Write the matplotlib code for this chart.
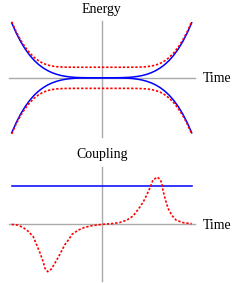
import numpy as np
import matplotlib.pyplot as plt

# Doc gia tri tu hinh: thoi gian -1..1, buoc 0.05
t = np.linspace(-1, 1, 41)

# Nang luong (duong xanh: cat nhau, duong do: tranh cat nhau)
blue_energy = [1.000, 0.815, 0.656, 0.522, 0.410, 0.316, 0.240, 0.179, 0.130, 0.092,
               0.063, 0.041, 0.026, 0.015, 0.008, 0.004, 0.002, 0.001, 0.000, 0.000,
               0.000,
               0.000, 0.000, 0.001, 0.002, 0.004, 0.008, 0.015, 0.026, 0.041, 0.063,
               0.092, 0.130, 0.179, 0.240, 0.316, 0.410, 0.522, 0.656, 0.815, 1.000]
red_energy = [1.018, 0.837, 0.684, 0.556, 0.453, 0.370, 0.308, 0.262, 0.232, 0.213,
              0.202, 0.197, 0.194, 0.193, 0.192, 0.192, 0.192, 0.192, 0.192, 0.192,
              0.192,
              0.192, 0.192, 0.192, 0.192, 0.192, 0.192, 0.193, 0.194, 0.197, 0.202,
              0.213, 0.232, 0.262, 0.308, 0.370, 0.453, 0.556, 0.684, 0.837, 1.018]

# Ghep noi (coupling)
coupling_t = [-1.0, -0.93, -0.87, -0.82, -0.76, -0.73, -0.69, -0.65, -0.63, -0.60,
              -0.56, -0.52, -0.47, -0.41, -0.37, -0.33, -0.26, -0.19, -0.11, 0.0,
              0.13, 0.20, 0.28, 0.35, 0.41, 0.46, 0.50, 0.54, 0.57, 0.62,
              0.65, 0.67, 0.68, 0.70, 0.72, 0.74, 0.78, 0.83, 0.91, 1.0]
coupling_red = [0.0, -0.015, -0.07, -0.14, -0.26, -0.40, -0.58, -0.79, -0.93, -1.0,
                -0.945, -0.82, -0.65, -0.43, -0.33, -0.21, -0.12, -0.063, -0.028, 0.0,
                0.02, 0.04, 0.09, 0.18, 0.33, 0.47, 0.62, 0.79, 0.94, 1.0,
                0.945, 0.86, 0.72, 0.58, 0.44, 0.33, 0.19, 0.085, 0.035, 0.015]
coupling_blue = 0.816

blue = (0, 0, 1)
red = (1, 0, 0)
gray = "#aaaaaa"
dots = (0, (1.4, 1.1))
font = dict(family="Liberation Serif", fontsize=10)

fig = plt.figure(figsize=(2.4, 2.83), dpi=100)

# Do thi nang luong
ax1 = fig.add_axes([0, 1 - 140 / 283, 1, 140 / 283])
ax1.axis("off")
ax1.set_xlim(-101.7 / 90, 138.3 / 90)
ax1.set_ylim(-(140 - 77.8) / 55, 77.8 / 55)
ax1.plot([-1.03, 1.037], [0, 0], color=gray, lw=1)
ax1.plot([0, 0], [-1.07, 1.04], color=gray, lw=1)
ax1.plot(t, blue_energy, color=blue, lw=1.1)
ax1.plot(t, -np.array(blue_energy), color=blue, lw=1.1)
ax1.plot(t, red_energy, color=red, lw=1.2, ls=dots)
ax1.plot(t, -np.array(red_energy), color=red, lw=1.2, ls=dots)
ax1.text(0, 1.245, "Energy", ha="center", va="center", **font)
ax1.text(1.126, -0.02, "Time", ha="left", va="center", **font)

# Do thi ghep noi
ax2 = fig.add_axes([0, 0, 1, 143 / 283])
ax2.axis("off")
ax2.set_xlim(-101.7 / 90, 138.3 / 90)
ax2.set_ylim(-58.6 / 47.3, 84.4 / 47.3)
ax2.plot([-1.03, 1.037], [0, 0], color=gray, lw=1)
ax2.plot([0, 0], [-1.2, 1.22], color=gray, lw=1)
ax2.plot([-1, 1], [coupling_blue, coupling_blue], color=blue, lw=1.1)
ax2.plot(coupling_t, coupling_red, color=red, lw=1.2, ls=dots)
ax2.text(0, 1.47, "Coupling", ha="center", va="center", **font)
ax2.text(1.126, -0.02, "Time", ha="left", va="center", **font)

fig.savefig("out.png", dpi=100)
